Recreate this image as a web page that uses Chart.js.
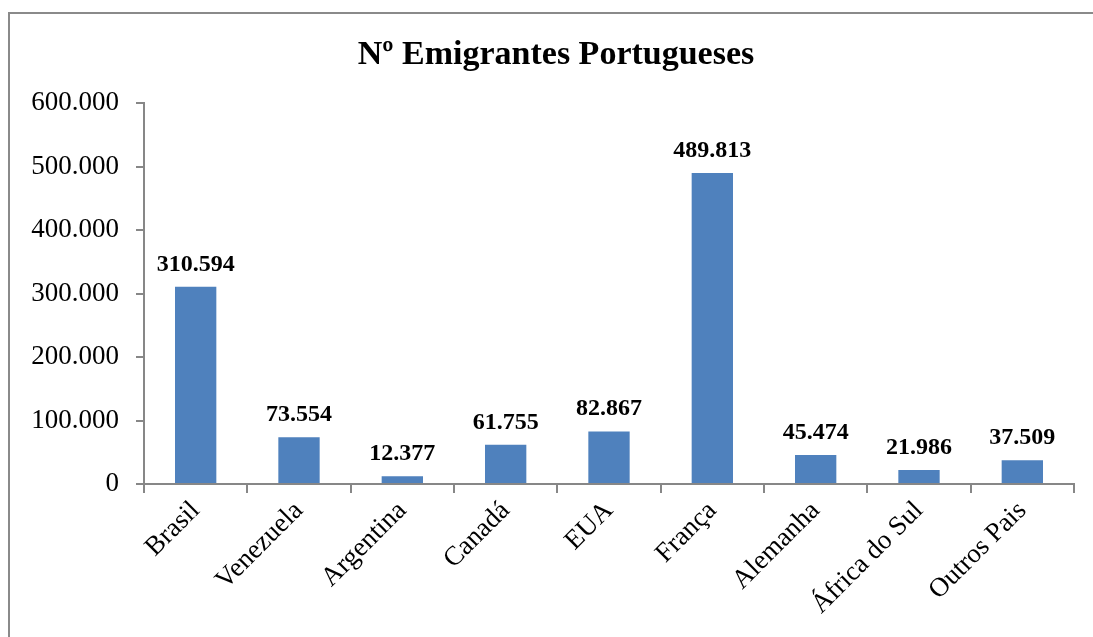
<!DOCTYPE html>
<html>
<head>
<meta charset="utf-8">
<title>Nº Emigrantes Portugueses</title>
<script src="https://cdn.jsdelivr.net/npm/chart.js@4/dist/chart.umd.min.js"></script>
<style>
  html, body { margin: 0; padding: 0; background: #fff; }
  #wrap { width: 1093px; height: 637px; }
</style>
</head>
<body>
<div id="wrap"><canvas id="chart" width="1093" height="637"></canvas></div>
<script>
// data
const paises = ['Brasil', 'Venezuela', 'Argentina', 'Canadá', 'EUA', 'França', 'Alemanha', 'África do Sul', 'Outros Pais'];
const emigrantes = [310594, 73554, 12377, 61755, 82867, 489813, 45474, 21986, 37509];
const yTicks = [0, 100000, 200000, 300000, 400000, 500000, 600000];
const titulo = 'Nº Emigrantes Portugueses';

const serif = '"Liberation Serif", "Times New Roman", serif';
const axisGrey = '#878787';

// 310594 -> "310.594"
function fmt(n) {
  return String(n).replace(/\B(?=(\d{3})+(?!\d))/g, '.');
}

// gray frame (only top and left show in the picture) + title centred on the frame
const framePlugin = {
  id: 'frame',
  beforeDraw(chart) {
    const ctx = chart.ctx;
    ctx.save();
    ctx.strokeStyle = '#8a8a8a';
    ctx.lineWidth = 2;
    ctx.beginPath();
    ctx.moveTo(9, chart.height + 5);
    ctx.lineTo(9, 13);
    ctx.lineTo(chart.width + 5, 13);
    ctx.stroke();

    ctx.font = 'bold 34px ' + serif;
    ctx.fillStyle = '#000';
    ctx.textAlign = 'center';
    ctx.textBaseline = 'middle';
    ctx.fillText(titulo, 556, 55);
    ctx.restore();
  }
};

// bold value over each bar
const valueLabels = {
  id: 'valueLabels',
  afterDatasetsDraw(chart) {
    const ctx = chart.ctx;
    const meta = chart.getDatasetMeta(0);
    ctx.save();
    ctx.font = 'bold 24px ' + serif;
    ctx.fillStyle = '#000';
    ctx.textAlign = 'center';
    ctx.textBaseline = 'alphabetic';
    meta.data.forEach((bar, i) => {
      ctx.fillText(fmt(emigrantes[i]), bar.x, bar.y - 16);
    });
    ctx.restore();
  }
};

new Chart(document.getElementById('chart').getContext('2d'), {
  type: 'bar',
  data: {
    labels: paises,
    datasets: [{
      label: 'Nº Emigrantes',
      data: emigrantes,
      backgroundColor: '#4F81BD',
      borderWidth: 0,
      categoryPercentage: 0.8,
      barPercentage: 0.5
    }]
  },
  options: {
    responsive: false,
    animation: false,
    layout: { padding: { top: 103, left: 0, right: 19, bottom: 0 } },
    plugins: {
      legend: { display: false },
      tooltip: { enabled: false },
      title: { display: false }
    },
    scales: {
      x: {
        grid: {
          offset: true,
          drawOnChartArea: false,
          drawTicks: true,
          tickLength: 9,
          color: axisGrey,
          lineWidth: 2
        },
        border: { display: true, color: axisGrey, width: 2 },
        ticks: {
          color: '#000',
          font: { family: serif, size: 27 },
          minRotation: 45,
          maxRotation: 45,
          padding: 2,
          autoSkip: false
        },
        afterFit(scale) { scale.height = 153; }
      },
      y: {
        min: 0,
        max: 600000,
        afterBuildTicks(scale) {
          scale.ticks = yTicks.map(v => ({ value: v }));
        },
        grid: {
          drawOnChartArea: false,
          drawTicks: true,
          tickLength: 8,
          color: axisGrey,
          lineWidth: 2
        },
        border: { display: true, color: axisGrey, width: 2 },
        ticks: {
          color: '#000',
          font: { family: serif, size: 27 },
          padding: 17,
          callback: v => fmt(v)
        },
        afterFit(scale) { scale.width = 144; }
      }
    }
  },
  plugins: [framePlugin, valueLabels]
});
</script>
</body>
</html>
